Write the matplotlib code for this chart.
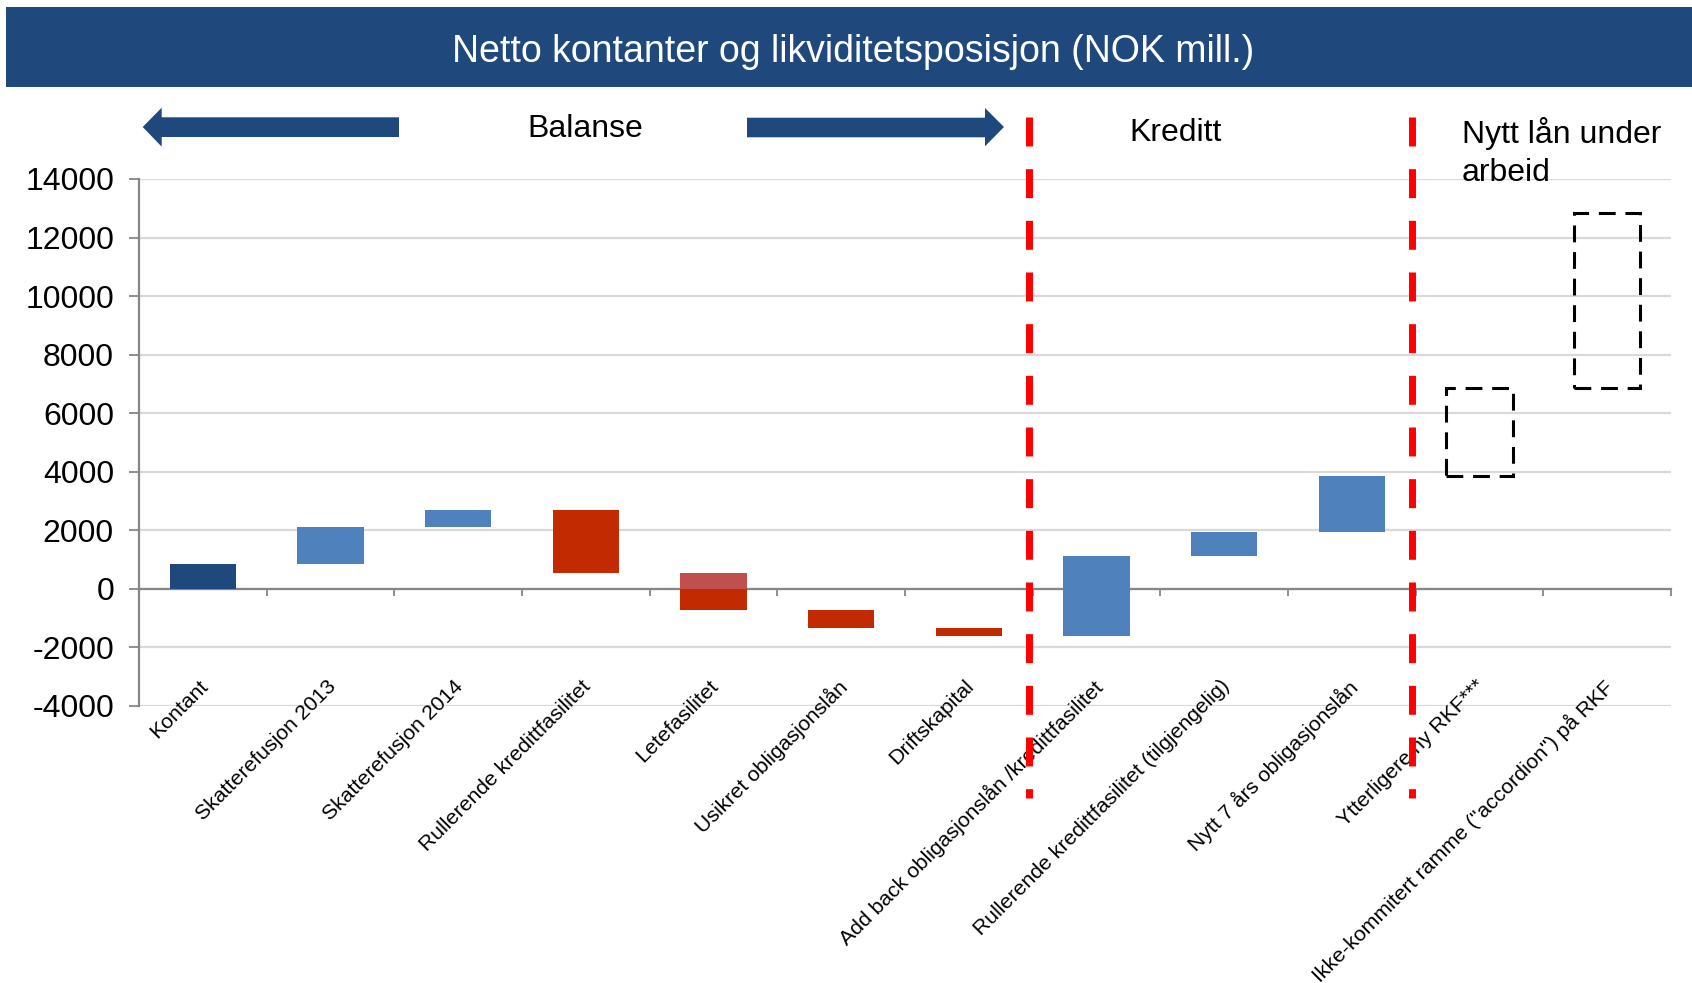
import numpy as np
import matplotlib
matplotlib.use("Agg")
import matplotlib.pyplot as plt
from matplotlib.patches import Polygon, Rectangle
from matplotlib.lines import Line2D
from matplotlib.transforms import blended_transform_factory

plt.rcParams["font.family"] = ["Liberation Sans", "DejaVu Sans"]
plt.rcParams["axes.unicode_minus"] = False

W, H = 1692, 983

categories = [
    "Kontant",
    "Skatterefusjon 2013",
    "Skatterefusjon 2014",
    "Rullerende kredittfasilitet",
    "Letefasilitet",
    "Usikret obligasjonslån",
    "Driftskapital",
    "Add back obligasjonslån /kredittfasilitet",
    "Rullerende kredittfasilitet (tilgjengelig)",
    "Nytt 7 års obligasjonslån",
    "Ytterligere ny RKF***",
    'Ikke-kommitert ramme ("accordion") på RKF',
]
# waterfall start / end of each step (NOK mill.)
step_start = [0, 830, 2100, 2680, 540, -740, -1330, -1630, 1100, 1950, 3850, 6850]
step_end = [830, 2100, 2680, 540, -740, -1330, -1630, 1100, 1950, 3850, 6850, 12850]
step_kind = ["total", "up", "up", "down", "down", "down", "down", "up", "up", "up",
             "planned", "planned"]
# part of Letefasilitet above zero shown in a lighter red
lete_idx = 4
lete_upper = (0, 540)

KIND_COLOR = {"total": "#1F497D", "up": "#4F81BD", "down": "#C22A02"}
NAVY = "#1F497D"
AXIS_GRAY = "#868686"


def fx(px):
    return px / W


def fy(py):
    return 1 - py / H


fig = plt.figure(figsize=(W / 100, H / 100), dpi=100)

# title banner
fig.add_artist(Rectangle((fx(6), fy(87)), fx(1692) - fx(6), fy(7) - fy(87),
                         transform=fig.transFigure, color=NAVY, lw=0))
fig.text(fx(853), fy(62), "Netto kontanter og likviditetsposisjon (NOK mill.)",
         color="white", fontsize=27, ha="center", va="baseline")

ax = fig.add_axes([fx(139), fy(705.7), fx(1671) - fx(139), fy(179) - fy(705.7)])
x = np.arange(len(categories))
low = np.minimum(step_start, step_end)
high = np.maximum(step_start, step_end)

for i in x:
    if step_kind[i] == "planned":
        ax.bar(i, high[i] - low[i], bottom=low[i], width=0.52, fill=False,
               edgecolor="black", linewidth=2.2, linestyle=(0, (5.5, 3.2)), zorder=3)
    else:
        ax.bar(i, high[i] - low[i], bottom=low[i], width=0.52,
               color=KIND_COLOR[step_kind[i]], linewidth=0, zorder=3)
ax.bar(lete_idx, lete_upper[1] - lete_upper[0], bottom=lete_upper[0], width=0.52,
       color="#C0504D", linewidth=0, zorder=3)

ax.set_xlim(-0.5, 11.5)
ax.set_ylim(-4000, 14000)
ax.set_yticks(np.arange(-4000, 14001, 2000))
ax.yaxis.grid(True, color="#D9D9D9", lw=1.6)
ax.set_axisbelow(True)
ax.tick_params(axis="y", labelsize=23, length=7, width=1.3, color=AXIS_GRAY, pad=11)
ax.set_xticks(np.arange(-0.5, 11.6, 1))
ax.set_xticklabels([])
ax.tick_params(axis="x", length=5, width=1.3, color=AXIS_GRAY, direction="out")
for side in ["top", "right"]:
    ax.spines[side].set_visible(False)
ax.spines["left"].set_color(AXIS_GRAY)
ax.spines["left"].set_linewidth(1.6)
ax.spines["bottom"].set_position(("data", 0))
ax.spines["bottom"].set_color(AXIS_GRAY)
ax.spines["bottom"].set_linewidth(1.6)

for i, lab in enumerate(categories):
    ax.text(i - 0.035, -3000, lab, rotation=45, rotation_mode="anchor",
            ha="right", va="top", fontsize=15.3, clip_on=False)

# section separators
trans = blended_transform_factory(ax.transData, fig.transFigure)
for xs in [6.47, 9.47]:
    fig.add_artist(Line2D([xs, xs], [fy(116.7), fy(798)], transform=trans,
                          color="#FF0000", lw=5, linestyle=(0, (4.17, 3.27)),
                          zorder=10))

# arrows around "Balanse"
left_arrow = [(142.7, 127), (161.7, 107.7), (161.7, 117.3), (399, 117.3),
              (399, 137), (161.7, 137), (161.7, 146.7)]
right_arrow = [(1004, 127), (985, 108), (985, 117.7), (747, 117.7),
               (747, 137.3), (985, 137.3), (985, 146.3)]
for pts in [left_arrow, right_arrow]:
    fig.add_artist(Polygon([(fx(a), fy(b)) for a, b in pts], closed=True,
                           transform=fig.transFigure, color=NAVY, lw=0))

fig.text(fx(585), fy(137.3), "Balanse", fontsize=23, ha="center", va="baseline")
fig.text(fx(1129), fy(141), "Kreditt", fontsize=23, ha="left", va="baseline")
fig.text(fx(1461.7), fy(142.7), "Nytt lån under", fontsize=23, ha="left", va="baseline")
fig.text(fx(1461.7), fy(181), "arbeid", fontsize=23, ha="left", va="baseline")

fig.savefig("out.png", dpi=100)
